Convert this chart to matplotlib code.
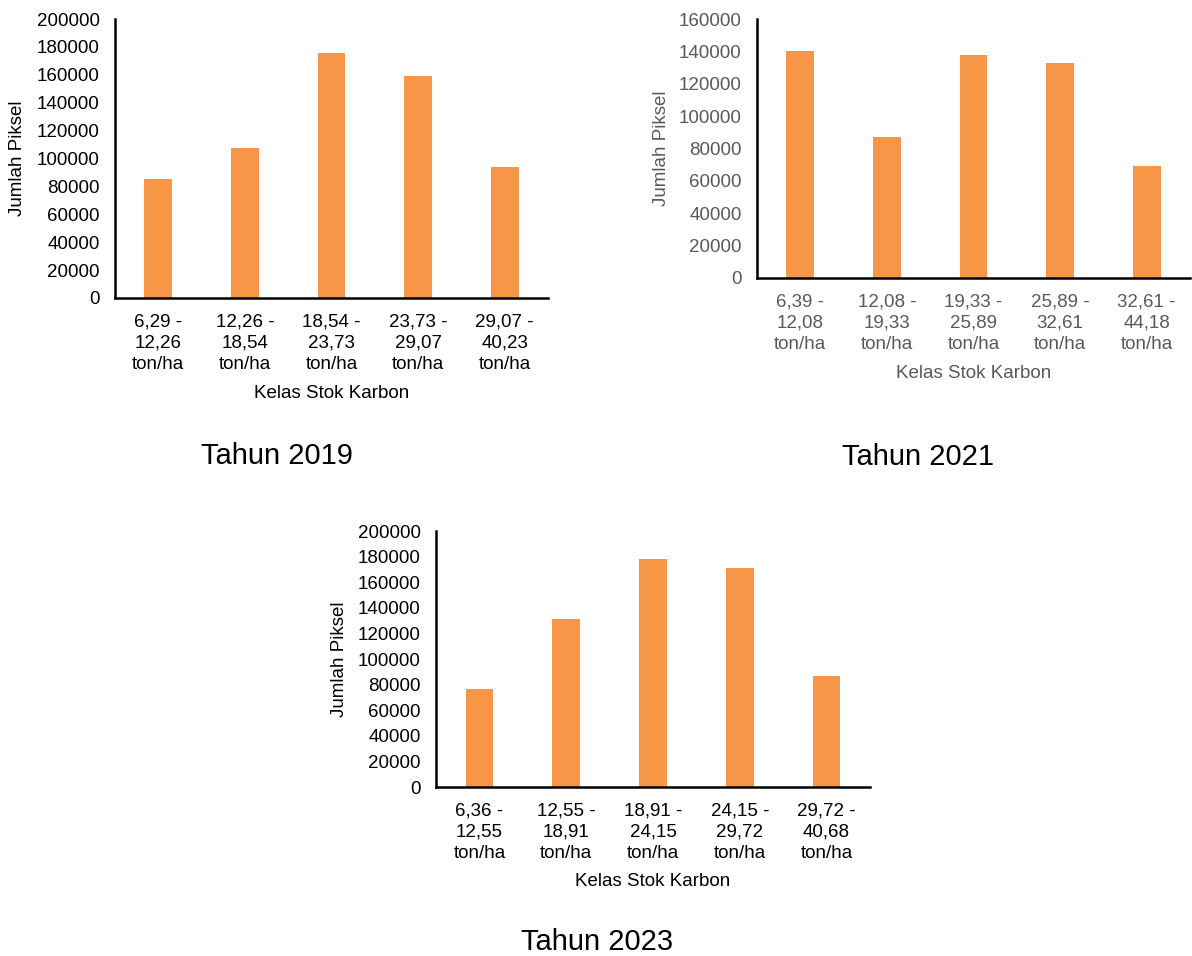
import matplotlib
matplotlib.use("Agg")
import matplotlib.pyplot as plt
import numpy as np

plt.rcParams['font.family'] = ['Liberation Sans', 'DejaVu Sans']

# batas kelas stok karbon (ton/ha) per tahun
batas_2019 = ["6,29", "12,26", "18,54", "23,73", "29,07", "40,23"]
batas_2021 = ["6,39", "12,08", "19,33", "25,89", "32,61", "44,18"]
batas_2023 = ["6,36", "12,55", "18,91", "24,15", "29,72", "40,68"]

# jumlah piksel per kelas
piksel_2019 = [85300, 107500, 175600, 158900, 93900]
piksel_2021 = [140000, 86900, 137800, 133000, 69000]
piksel_2023 = [76300, 131000, 177900, 170900, 87000]

ymax_2019 = 200000
ymax_2021 = 160000
ymax_2023 = 200000

BAR_COLOR = "#F79646"
W, H = 1192, 956

fig = plt.figure(figsize=(W / 100, H / 100), dpi=100)


def kelas_labels(batas):
    return [f"{a} -\n{b}\nton/ha" for a, b in zip(batas[:-1], batas[1:])]


def panel(rect_px, batas, piksel, ymax, judul, judul_xy, ylab_x, txt_color):
    # rect_px = (left, top, right, bottom) in pixels from top-left
    l, t, r, b = rect_px
    ax = fig.add_axes([l / W, 1 - b / H, (r - l) / W, (b - t) / H])
    x = np.arange(len(piksel))
    ax.bar(x, piksel, width=0.32, color=BAR_COLOR)
    ax.set_xlim(-0.5, len(piksel) - 0.5)
    ax.set_ylim(0, ymax)
    ax.set_yticks(np.arange(0, ymax + 1, 20000))
    ax.set_xticks(x)
    ax.set_xticklabels(kelas_labels(batas), linespacing=1.32)
    for s in ("top", "right"):
        ax.spines[s].set_visible(False)
    for s in ("left", "bottom"):
        ax.spines[s].set_linewidth(1.8)
        ax.spines[s].set_color("black")
    ax.tick_params(axis="y", length=0, pad=11, labelsize=13.5, labelcolor=txt_color)
    ax.tick_params(axis="x", length=0, pad=11, labelsize=13.5, labelcolor=txt_color)

    # judul sumbu dan judul panel
    fig.text((l + r) / 2 / W, 1 - (b + 95) / H, "Kelas Stok Karbon",
             ha="center", va="center", fontsize=13.5, color=txt_color)
    fig.text(ylab_x / W, 1 - (t + b) / 2 / H, "Jumlah Piksel", rotation=90,
             ha="center", va="center", fontsize=13.5, color=txt_color)
    fig.text(judul_xy[0] / W, 1 - judul_xy[1] / H, judul,
             ha="center", va="center", fontsize=21, color="black")
    return ax


panel((115, 19, 548, 298), batas_2019, piksel_2019, ymax_2019,
      "Tahun 2019", (277, 456), 18, "black")
panel((757, 19, 1190, 278), batas_2021, piksel_2021, ymax_2021,
      "Tahun 2021", (918, 457), 661, "#595959")
panel((436, 531, 870, 787), batas_2023, piksel_2023, ymax_2023,
      "Tahun 2023", (597, 942), 340, "black")

fig.savefig("out.png", dpi=100)
